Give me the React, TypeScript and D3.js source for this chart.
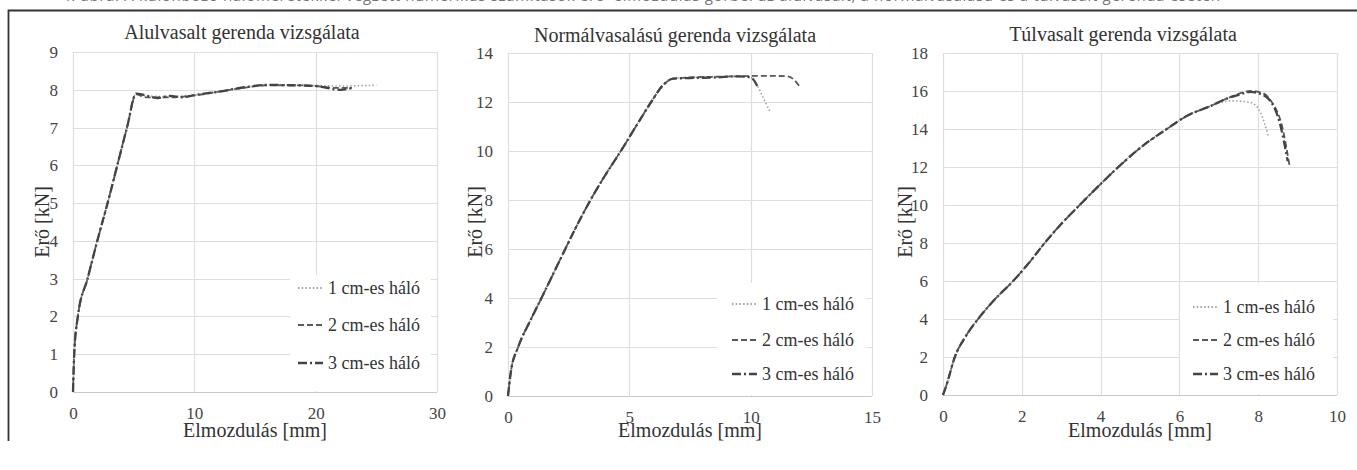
import React, { useEffect, useRef } from 'react'
import * as d3 from 'd3'

type Pt = [number, number]

// --- Alulvasalt gerenda (x: elmozdulás mm, y: erő kN)
const aluTicksX = [0, 10, 20, 30]
const aluTicksY = [0, 1, 2, 3, 4, 5, 6, 7, 8, 9]
const alu1cm: Pt[] = [[0, 0], [0.1, 1], [0.4, 2], [1.2, 3], [2.0, 4], [2.85, 5], [3.65, 6], [4.45, 7], [5.2, 7.9], [6, 7.84], [8, 7.82], [10, 7.86], [12, 7.95], [14, 8.05], [16, 8.12], [18, 8.13], [20, 8.11], [22, 8.1], [25, 8.12]]
const alu2cm: Pt[] = [[0, 0], [0.1, 1], [0.4, 2], [1.2, 3], [2.0, 4], [2.85, 5], [3.65, 6], [4.45, 7], [5.2, 7.88], [6, 7.8], [8, 7.8], [10, 7.85], [12, 7.95], [14, 8.05], [16, 8.12], [18, 8.12], [20, 8.1], [21.5, 8.05], [23, 8.05]]
const alu3cm: Pt[] = [[0, 0], [0.1, 1], [0.4, 2], [1.2, 3], [2.0, 4], [2.85, 5], [3.65, 6], [4.45, 7], [5.2, 7.9], [6, 7.85], [7, 7.78], [8, 7.84], [9, 7.8], [10, 7.86], [12, 7.95], [14, 8.06], [16, 8.13], [18, 8.12], [20, 8.1], [22, 8.0], [23, 8.05]]

// --- Normálvasalású gerenda
const normTicksX = [0, 5, 10, 15]
const normTicksY = [0, 2, 4, 6, 8, 10, 12, 14]
const norm1cm: Pt[] = [[0, 0], [0.12, 1], [0.42, 2], [0.88, 3], [1.38, 4], [1.87, 5], [2.36, 6], [2.86, 7], [3.4, 8], [4.0, 9], [4.65, 10], [5.27, 11], [5.9, 12], [6.4, 12.7], [6.8, 12.95], [7.5, 13], [8.5, 13.02], [9.5, 13.05], [10, 13.0], [10.2, 12.8], [10.5, 12.2], [10.8, 11.6]]
const norm2cm: Pt[] = [[0, 0], [0.12, 1], [0.42, 2], [0.88, 3], [1.38, 4], [1.87, 5], [2.36, 6], [2.86, 7], [3.4, 8], [4.0, 9], [4.65, 10], [5.27, 11], [5.9, 12], [6.4, 12.7], [6.8, 12.95], [7.5, 13], [8.5, 13.03], [9.5, 13.05], [10.5, 13.07], [11.5, 13.05], [11.8, 12.9], [12.0, 12.65]]
const norm3cm: Pt[] = [[0, 0], [0.12, 1], [0.42, 2], [0.88, 3], [1.38, 4], [1.87, 5], [2.36, 6], [2.86, 7], [3.4, 8], [4.0, 9], [4.65, 10], [5.27, 11], [5.9, 12], [6.4, 12.7], [6.8, 12.95], [7.5, 12.98], [8.5, 13.0], [9.5, 13.05], [10, 13.0], [10.3, 12.6]]

// --- Túlvasalt gerenda
const tulTicksX = [0, 2, 4, 6, 8, 10]
const tulTicksY = [0, 2, 4, 6, 8, 10, 12, 14, 16, 18]
const tul1cm: Pt[] = [[0, 0], [0.1, 0.6], [0.3, 2], [0.55, 3], [0.89, 4], [1.3, 5], [1.78, 6], [2.2, 7], [2.58, 8], [3.0, 9], [3.47, 10], [3.95, 11], [4.45, 12], [5.0, 13], [5.68, 14], [6.2, 14.7], [6.78, 15.2], [7.3, 15.48], [7.8, 15.4], [8.05, 14.9], [8.26, 13.6]]
const tul2cm: Pt[] = [[0, 0], [0.1, 0.6], [0.3, 2], [0.55, 3], [0.89, 4], [1.3, 5], [1.78, 6], [2.2, 7], [2.58, 8], [3.0, 9], [3.47, 10], [3.95, 11], [4.45, 12], [5.0, 13], [5.68, 14], [6.2, 14.7], [6.78, 15.2], [7.2, 15.6], [7.5, 15.85], [7.8, 16.0], [8.1, 15.9], [8.35, 15.4], [8.6, 14.2], [8.8, 12.0]]
const tul3cm: Pt[] = [[0, 0], [0.1, 0.6], [0.3, 2], [0.55, 3], [0.89, 4], [1.3, 5], [1.78, 6], [2.2, 7], [2.58, 8], [3.0, 9], [3.47, 10], [3.95, 11], [4.45, 12], [5.0, 13], [5.68, 14], [6.2, 14.7], [6.78, 15.2], [7.2, 15.6], [7.5, 15.8], [7.8, 15.95], [8.05, 15.85], [8.3, 15.5], [8.55, 14.3], [8.75, 12.3]]

const titles = ['Alulvasalt gerenda vizsgálata', 'Normálvasalású gerenda vizsgálata', 'Túlvasalt gerenda vizsgálata']
const legendLabels = ['1 cm-es háló', '2 cm-es háló', '3 cm-es háló']
const xTitle = 'Elmozdulás [mm]'
const yTitle = 'Erő [kN]'
const caption = '4. ábra: A különböző hálóméretekkel végzett numerikus számítások erő–elmozdulás görbéi az alulvasalt, a normálvasalású és a túlvasalt gerenda esetén'

const lineStyles = [
  { stroke: '#a3a3a3', width: 1.6, dash: '1.5 2.2' },
  { stroke: '#5a5a5a', width: 1.8, dash: '6 3' },
  { stroke: '#444', width: 2.3, dash: '9 3 2 3' },
]

const SERIF = '"Liberation Serif", "Times New Roman", serif'

const panels = [
  { title: titles[0], series: [alu1cm, alu2cm, alu3cm], xt: aluTicksX, yt: aluTicksY,
    left: 73, right: 437, top: 52, bottom: 392, titleX: 242, titleY: 39, yTitleX: 42,
    leg: { x0: 290, x1: 431, y0: 275, y1: 391, sx: 298, tx: 328, rows: [288, 325, 363] } },
  { title: titles[1], series: [norm1cm, norm2cm, norm3cm], xt: normTicksX, yt: normTicksY,
    left: 508, right: 872, top: 53, bottom: 396, titleX: 675, titleY: 42, yTitleX: 475,
    leg: { x0: 717, x1: 866, y0: 283, y1: 395, sx: 732, tx: 762, rows: [304, 340, 374] } },
  { title: titles[2], series: [tul1cm, tul2cm, tul3cm], xt: tulTicksX, yt: tulTicksY,
    left: 943, right: 1337, top: 53, bottom: 395, titleX: 1123, titleY: 41, yTitleX: 905,
    leg: { x0: 1180, x1: 1333, y0: 283, y1: 394, sx: 1193, tx: 1223, rows: [307, 340, 374] } },
]

export default function App() {
  const ref = useRef<SVGSVGElement>(null)

  useEffect(() => {
    const svg = d3.select(ref.current)
    svg.selectAll('*').remove()

    svg.append('rect').attr('width', 1357).attr('height', 470).attr('fill', '#fff')

    // caption line, cut off at the top edge of the picture (only its lower edge shows)
    svg.append('text')
      .attr('x', 62).attr('y', 0.6)
      .attr('font-family', '"Open Sans", sans-serif').attr('font-size', 15)
      .attr('fill', '#777')
      .attr('textLength', 1158)
      .text(caption)

    // frame
    svg.append('path')
      .attr('d', 'M1360,10.5 H8.5 V441')
      .attr('fill', 'none').attr('stroke', '#333').attr('stroke-width', 1.8)

    panels.forEach(p => {
      const x = d3.scaleLinear().domain([p.xt[0], p.xt[p.xt.length - 1]]).range([p.left, p.right])
      const y = d3.scaleLinear().domain([p.yt[0], p.yt[p.yt.length - 1]]).range([p.bottom, p.top])
      const g = svg.append('g')

      // grid
      g.selectAll('.hg').data(p.yt).enter().append('line')
        .attr('x1', p.left).attr('x2', p.right)
        .attr('y1', d => Math.round(y(d)) + 0.5).attr('y2', d => Math.round(y(d)) + 0.5)
        .attr('stroke', d => (d === 0 ? '#c8c8c8' : '#dedede')).attr('stroke-width', 1.2)
      g.selectAll('.vg').data(p.xt).enter().append('line')
        .attr('y1', p.top).attr('y2', p.bottom)
        .attr('x1', d => Math.round(x(d)) + 0.5).attr('x2', d => Math.round(x(d)) + 0.5)
        .attr('stroke', '#dedede').attr('stroke-width', 1.2)

      // legend background
      g.append('rect')
        .attr('x', p.leg.x0).attr('y', p.leg.y0)
        .attr('width', p.leg.x1 - p.leg.x0).attr('height', p.leg.y1 - p.leg.y0)
        .attr('fill', '#fff')

      // axes
      const ax = g.append('g').attr('transform', `translate(0,${p.bottom})`)
        .call(d3.axisBottom(x).tickValues(p.xt).tickSize(0).tickPadding(15).tickFormat(d3.format('d')))
      ax.select('.domain').remove()
      ax.attr('font-family', SERIF).attr('font-size', 17).style('color', '#444')

      const ay = g.append('g').attr('transform', `translate(${p.left},0)`)
        .call(d3.axisLeft(y).tickValues(p.yt).tickSize(0).tickPadding(15).tickFormat(d3.format('d')))
      ay.select('.domain').remove()
      ay.attr('font-family', SERIF).attr('font-size', 17).style('color', '#444')

      // series
      const line = d3.line<Pt>().x(d => x(d[0])).y(d => y(d[1])).curve(d3.curveMonotoneX)
      p.series.forEach((s, i) => {
        const st = lineStyles[i]
        g.append('path').datum(s)
          .attr('d', line)
          .attr('fill', 'none')
          .attr('stroke', st.stroke)
          .attr('stroke-width', st.width)
          .attr('stroke-dasharray', st.dash)
      })

      // legend
      legendLabels.forEach((lab, i) => {
        const st = lineStyles[i]
        const ry = p.leg.rows[i]
        g.append('line')
          .attr('x1', p.leg.sx).attr('x2', p.leg.sx + 25)
          .attr('y1', ry).attr('y2', ry)
          .attr('stroke', st.stroke).attr('stroke-width', st.width + 0.4)
          .attr('stroke-dasharray', st.dash)
        g.append('text')
          .attr('x', p.leg.tx).attr('y', ry).attr('dy', '0.35em')
          .attr('font-family', SERIF).attr('font-size', 18).attr('fill', '#333')
          .text(lab)
      })

      // titles
      g.append('text')
        .attr('x', p.titleX).attr('y', p.titleY)
        .attr('text-anchor', 'middle')
        .attr('font-family', SERIF).attr('font-size', 20).attr('fill', '#333')
        .text(p.title)

      g.append('text')
        .attr('x', (p.left + p.right) / 2).attr('y', 437)
        .attr('text-anchor', 'middle')
        .attr('font-family', SERIF).attr('font-size', 20).attr('fill', '#333')
        .text(xTitle)

      g.append('text')
        .attr('transform', `translate(${p.yTitleX},222) rotate(-90)`)
        .attr('text-anchor', 'middle').attr('dy', '0.35em')
        .attr('font-family', SERIF).attr('font-size', 20).attr('fill', '#333')
        .text(yTitle)
    })
  }, [])

  return (
    <svg ref={ref} width={1357} height={470}
      style={{ position: 'absolute', left: 0, top: 0, display: 'block' }} />
  )
}
